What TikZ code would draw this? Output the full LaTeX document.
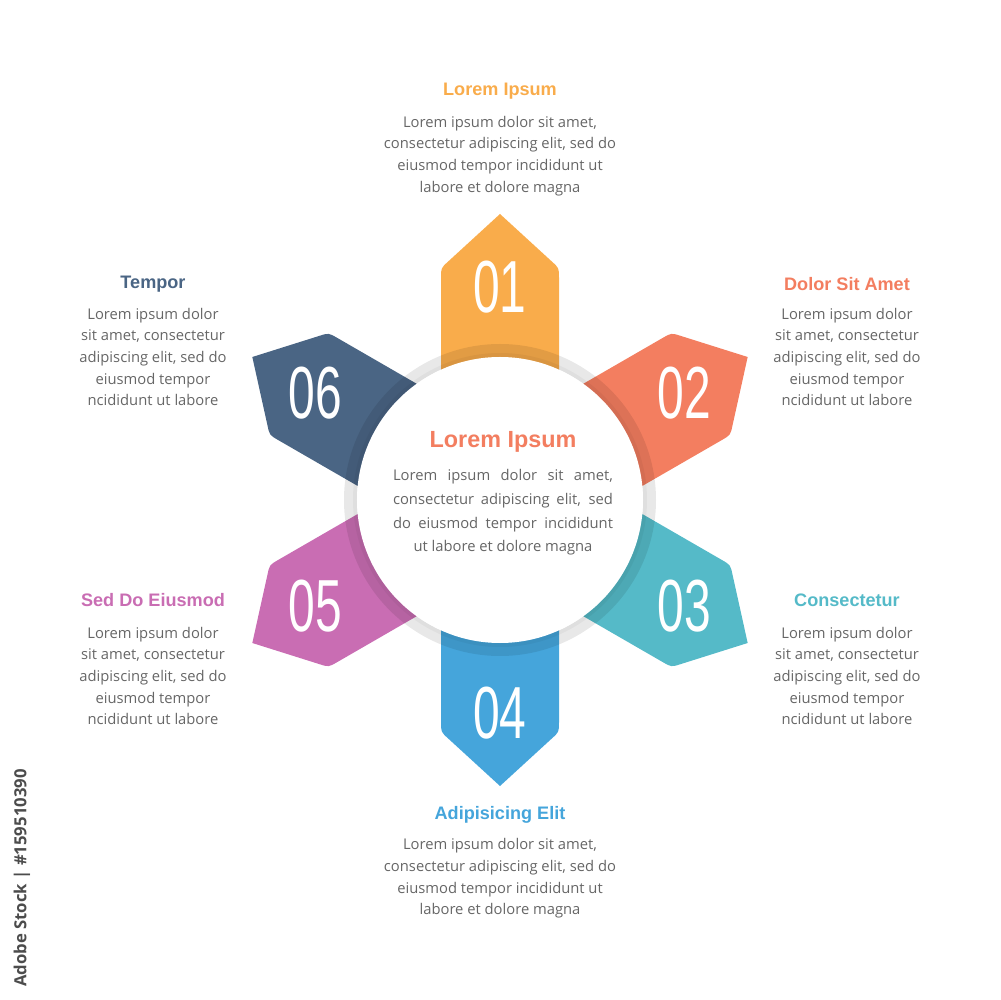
\documentclass[tikz,border=0pt]{standalone}
\usepackage{fontspec}
\setmainfont{Open Sans}
\newfontfamily\headfont{Liberation Sans}
\newfontfamily\numfont[FakeStretch=0.65]{Liberation Sans}
\usepackage{xcolor}
\usetikzlibrary{
    calc,
    positioning
}
\definecolor{tabA}{HTML}{F9AC4B}
\definecolor{tabB}{HTML}{F37E60}
\definecolor{tabC}{HTML}{55BAC8}
\definecolor{tabD}{HTML}{45A5DB}
\definecolor{tabE}{HTML}{C96DB3}
\definecolor{tabF}{HTML}{4A6584}
\definecolor{bodygray}{HTML}{666666}
\tikzset{
    heading/.style={font=\headfont\bfseries\fontsize{10.3}{12}\selectfont, inner sep=0pt},
    bodytext/.style={font=\fontsize{8.4}{12.35}\selectfont, text=bodygray, align=center, inner sep=0pt},
    number/.style={font=\numfont\fontsize{42}{42}\selectfont, text=white, inner sep=0pt}
}
% one arrow shaped tab, pointing at angle #1
\newcommand{\drawtab}[2]{%
    \fill[#2, rotate=#1-90] (-59,100) -- (-59,222) .. controls (-59,232) .. (-51.6,238.7)
        -- (0,286) -- (51.6,238.7) .. controls (59,232) .. (59,222) -- (59,100) -- cycle;}
\newcommand{\jline}[1]{\makebox[125.2pt][s]{#1}}

\begin{document}
\begin{tikzpicture}[x=0.02cm, y=0.02cm]
                        \useasboundingbox (-500,-500) rectangle (500,500);
                        \drawtab{90}{tabA}
                        \drawtab{30}{tabB}
                        \drawtab{-30}{tabC}
                        \drawtab{-90}{tabD}
                        \drawtab{-150}{tabE}
                        \drawtab{150}{tabF}
                        % ring with its shadow
                        \fill[black, opacity=0.09, even odd rule] (0,0) circle (156) (0,0) circle (143);
                        \fill[black, opacity=0.04] (0,0) circle (147);
                        \fill[white] (0,0) circle (143);
                        \node[number] (n1) at (90:213) {01};
                        \node[number] (n2) at (30:213) {02};
                        \node[number] (n3) at (-30:213) {03};
                        \node[number] (n4) at (-90:213) {04};
                        \node[number] (n5) at (-150:213) {05};
                        \node[number] (n6) at (150:213) {06};
                        % center text
                        \node[heading, text=tabB, font=\headfont\bfseries\fontsize{13.3}{15}\selectfont] (ct) at (3,58) {Lorem Ipsum};
                        \node[bodytext, font=\fontsize{8.4}{13.5}\selectfont] (cb) at (3,-12.5) {\jline{Lorem ipsum dolor sit amet,}\\\jline{consectetur adipiscing elit, sed}\\\jline{do eiusmod tempor incididunt}\\ut labore et dolore magna};
                        % outer texts
                        \node[heading, text=tabA] (t1) at (0,409) {Lorem Ipsum};
                        \node[bodytext] (b1) at (0,344) {Lorem ipsum dolor sit amet,\\consectetur adipiscing elit, sed do\\eiusmod tempor incididunt ut\\labore et dolore magna};
                        \node[heading, text=tabB] (t2) at (347,216) {Dolor Sit Amet};
                        \node[bodytext] (b2) at (347,143) {Lorem ipsum dolor\\sit amet, consectetur\\adipiscing elit, sed do\\eiusmod tempor\\ncididunt ut labore};
                        \node[heading, text=tabC] (t3) at (347,-100) {Consectetur};
                        \node[bodytext] (b3) at (347,-176) {Lorem ipsum dolor\\sit amet, consectetur\\adipiscing elit, sed do\\eiusmod tempor\\ncididunt ut labore};
                        \node[heading, text=tabD] (t4) at (0,-315) {Adipisicing Elit};
                        \node[bodytext] (b4) at (0,-378.5) {Lorem ipsum dolor sit amet,\\consectetur adipiscing elit, sed do\\eiusmod tempor incididunt ut\\labore et dolore magna};
                        \node[heading, text=tabE] (t5) at (-347,-100) {Sed Do Eiusmod};
                        \node[bodytext] (b5) at (-347,-176) {Lorem ipsum dolor\\sit amet, consectetur\\adipiscing elit, sed do\\eiusmod tempor\\ncididunt ut labore};
                        \node[heading, text=tabF] (t6) at (-347,216) {Tempor};
                        \node[bodytext] (b6) at (-347,143) {Lorem ipsum dolor\\sit amet, consectetur\\adipiscing elit, sed do\\eiusmod tempor\\ncididunt ut labore};
                        \node[rotate=90, font=\bfseries\fontsize{9.5}{11}\selectfont, text=black!70, inner sep=0pt] (stock) at (-478,-378) {Adobe Stock | \#159510390};
                    \end{tikzpicture}
\end{document}
